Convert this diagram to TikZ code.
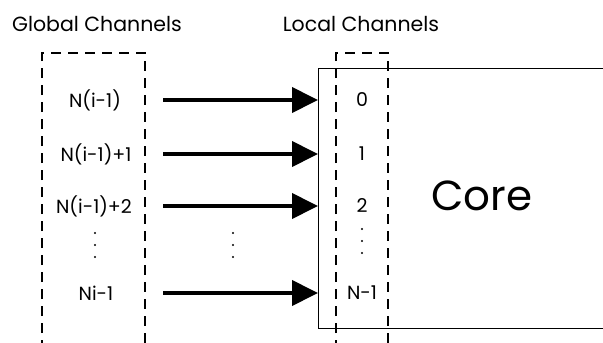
\documentclass[tikz,border=0pt]{standalone}
\usepackage{fontspec}
\setmainfont{Poppins}
\usetikzlibrary{arrows.meta}
\tikzset{
  lbl/.style={font=\fontsize{19}{21}\selectfont, inner sep=0pt, anchor=center},
  head/.style={font=\fontsize{20.5}{23}\selectfont, inner sep=0pt, anchor=center},
  chan/.style={draw, line width=2pt, dash pattern=on 10pt off 7pt},
  feed/.style={line width=4pt, -{Triangle[length=26pt,width=25pt]}, shorten >=0pt},
  corebox/.style={draw, line width=1pt},
  dotmark/.style={fill, circle, inner sep=0pt, minimum size=2.4pt}
}
\begin{document}
\begin{tikzpicture}[x=1pt,y=-1pt]
\useasboundingbox (0,0) rectangle (603,343);
\fill[white] (0,0) rectangle (603,343);
% headings
\node[head] (hg) at (97,24) {Global Channels};
\node[head] (hl) at (361,24) {Local Channels};
% core box (open at right, beyond picture)
\draw[corebox] (640,68) -- (318,68) -- (318,328) -- (640,328);
\coordinate (c0) at (318,100);
\coordinate (c1) at (318,154);
\coordinate (c2) at (318,206);
\coordinate (c3) at (318,293);
\node[font=\fontsize{42}{44}\selectfont, inner sep=0pt] (core) at (482,196) {Core};
% dashed channel boxes
\draw[chan] (42,350) -- (42,53) -- (145,53) -- (145,350);
\draw[chan] (336,350) -- (336,53) -- (388,53) -- (388,350);
% global labels
\node[lbl] (g0) at (95,100) {N(i-1)};
\node[lbl] (g1) at (96,154) {N(i-1)+1};
\node[lbl] (g2) at (94,206) {N(i-1)+2};
\node[lbl] (g3) at (96,293) {Ni-1};
% local labels
\node[lbl] (l0) at (362,100) {0};
\node[lbl] (l1) at (362,154) {1};
\node[lbl] (l2) at (362,206) {2};
\node[lbl] (l3) at (362,293) {N-1};
% arrow starts
\coordinate (s0) at (163,100);
\coordinate (s1) at (163,154);
\coordinate (s2) at (163,206);
\coordinate (s3) at (163,293);
\draw[feed] (s0) -- (c0);
\draw[feed] (s1) -- (c1);
\draw[feed] (s2) -- (c2);
\draw[feed] (s3) -- (c3);
% vertical dots
\foreach \y in {233,245,257} {
  \node[dotmark] at (95,\y) {};
  \node[dotmark] at (233,\y) {};
}
\foreach \y in {229,241,253} {
  \node[dotmark] at (362,\y) {};
}
\end{tikzpicture}
\end{document}
